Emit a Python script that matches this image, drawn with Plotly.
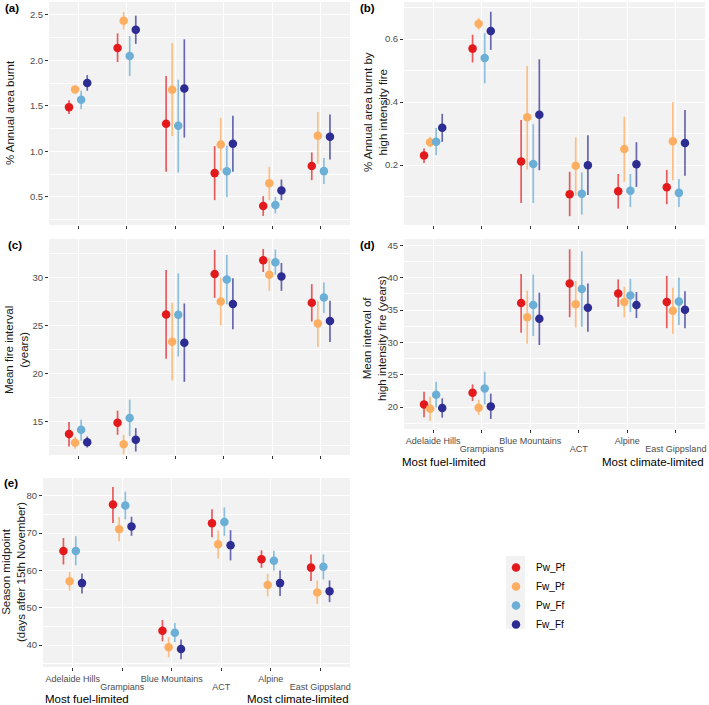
import plotly.graph_objects as go
import numpy as np

W, H = 709, 705

regions = ["Adelaide Hills", "Grampians", "Blue Mountains", "ACT", "Alpine", "East Gippsland"]
series = ["Pw_Pf", "Fw_Pf", "Pw_Ff", "Fw_Ff"]
colors = {"Pw_Pf": "#E31A1C", "Fw_Pf": "#FDAE61", "Pw_Ff": "#6BAED6", "Fw_Ff": "#2C2C92"}
bar_colors = {"Pw_Pf": "rgba(227,26,28,0.7)", "Fw_Pf": "rgba(253,174,97,0.75)",
              "Pw_Ff": "rgba(107,174,214,0.75)", "Fw_Ff": "rgba(44,44,146,0.7)"}

# (a) % Annual area burnt
a_mid = {"Pw_Pf": [1.485, 2.134, 1.302, 0.76, 0.40, 0.837],
         "Fw_Pf": [1.68, 2.434, 1.676, 1.075, 0.65, 1.17],
         "Pw_Ff": [1.566, 2.046, 1.28, 0.78, 0.41, 0.782],
         "Fw_Ff": [1.75, 2.335, 1.69, 1.082, 0.57, 1.16]}
a_lo = {"Pw_Pf": [1.41, 1.98, 0.775, 0.463, 0.29, 0.683],
        "Fw_Pf": [1.64, 2.34, 1.167, 0.786, 0.463, 0.866],
        "Pw_Ff": [1.463, 1.826, 0.767, 0.496, 0.317, 0.64],
        "Fw_Ff": [1.665, 2.18, 1.15, 0.775, 0.463, 0.91]}
a_hi = {"Pw_Pf": [1.56, 2.295, 1.826, 1.057, 0.507, 0.987],
        "Fw_Pf": [1.72, 2.53, 2.19, 1.368, 0.83, 1.43],
        "Pw_Ff": [1.665, 2.266, 1.786, 1.06, 0.5, 0.925],
        "Fw_Ff": [1.837, 2.49, 2.23, 1.39, 0.69, 1.405]}

# (b) % Annual area burnt by high intensity fire
b_mid = {"Pw_Pf": [0.231, 0.57, 0.212, 0.108, 0.117, 0.13],
         "Fw_Pf": [0.273, 0.649, 0.352, 0.198, 0.251, 0.276],
         "Pw_Ff": [0.274, 0.54, 0.204, 0.109, 0.119, 0.112],
         "Fw_Ff": [0.319, 0.626, 0.36, 0.2, 0.203, 0.27]}
b_lo = {"Pw_Pf": [0.207, 0.526, 0.08, 0.038, 0.062, 0.076],
        "Fw_Pf": [0.258, 0.63, 0.186, 0.103, 0.147, 0.152],
        "Pw_Ff": [0.232, 0.46, 0.08, 0.043, 0.067, 0.067],
        "Fw_Ff": [0.274, 0.566, 0.184, 0.105, 0.131, 0.166]}
b_hi = {"Pw_Pf": [0.253, 0.614, 0.343, 0.179, 0.172, 0.185],
        "Fw_Pf": [0.29, 0.667, 0.515, 0.288, 0.354, 0.40],
        "Pw_Ff": [0.318, 0.619, 0.33, 0.177, 0.172, 0.156],
        "Fw_Ff": [0.363, 0.687, 0.536, 0.295, 0.273, 0.375]}

# (c) Mean fire interval (years)
c_mid = {"Pw_Pf": [13.68, 14.86, 26.13, 30.35, 31.78, 27.35],
         "Fw_Pf": [12.77, 12.63, 23.3, 27.49, 30.28, 25.19],
         "Pw_Ff": [14.13, 15.35, 26.1, 29.79, 31.57, 27.9],
         "Fw_Ff": [12.84, 13.08, 23.2, 27.24, 30.1, 25.47]}
c_lo = {"Pw_Pf": [12.39, 13.6, 21.52, 27.87, 30.56, 25.4],
        "Fw_Pf": [12.14, 11.58, 19.26, 24.98, 28.6, 22.75],
        "Pw_Ff": [12.98, 13.47, 21.77, 27.2, 30.28, 26.3],
        "Fw_Ff": [12.28, 11.86, 19.12, 24.6, 28.6, 23.27]}
c_hi = {"Pw_Pf": [14.93, 16.12, 30.77, 32.86, 32.96, 29.3],
        "Fw_Pf": [13.4, 13.6, 27.38, 30.0, 31.99, 27.56],
        "Pw_Ff": [15.18, 17.27, 30.42, 32.34, 32.9, 29.48],
        "Fw_Ff": [13.43, 14.3, 27.28, 29.9, 31.5, 27.56]}

# (d) Mean interval of high intensity fire (years)
d_mid = {"Pw_Pf": [20.41, 22.21, 36.08, 39.1, 37.58, 36.24],
         "Fw_Pf": [19.74, 19.9, 33.9, 35.9, 36.24, 34.9],
         "Pw_Ff": [21.9, 22.88, 35.77, 38.25, 37.27, 36.34],
         "Fw_Ff": [19.85, 20.1, 33.66, 35.36, 35.77, 35.05]}
d_lo = {"Pw_Pf": [18.41, 20.93, 31.5, 33.9, 35.5, 32.2],
        "Fw_Pf": [17.84, 18.77, 29.8, 32.3, 33.87, 31.34],
        "Pw_Ff": [19.9, 20.41, 31.0, 32.4, 34.7, 32.7],
        "Fw_Ff": [18.35, 18.15, 29.6, 31.65, 33.76, 32.2]}
d_hi = {"Pw_Pf": [22.37, 23.5, 40.57, 44.4, 39.74, 40.3],
        "Fw_Pf": [21.6, 21.13, 38.0, 39.5, 38.6, 38.45],
        "Pw_Ff": [23.9, 25.45, 40.5, 44.1, 39.85, 40.05],
        "Fw_Ff": [21.34, 22.06, 37.7, 39.1, 37.8, 37.9]}

# (e) Season midpoint (days after 15th November)
e_mid = {"Pw_Pf": [65.2, 77.7, 43.85, 72.66, 63.0, 60.76],
         "Fw_Pf": [57.1, 71.05, 39.4, 67.0, 56.1, 54.1],
         "Pw_Ff": [65.2, 77.4, 43.3, 73.0, 62.6, 61.0],
         "Fw_Ff": [56.6, 71.77, 38.9, 66.76, 56.6, 54.4]}
e_lo = {"Pw_Pf": [61.6, 72.75, 41.0, 68.9, 60.7, 57.2],
        "Fw_Pf": [54.6, 67.8, 36.7, 63.2, 53.1, 51.0],
        "Pw_Ff": [61.4, 73.7, 40.8, 69.3, 60.0, 57.6],
        "Fw_Ff": [53.8, 69.3, 36.2, 62.7, 53.15, 51.5]}
e_hi = {"Pw_Pf": [68.7, 82.4, 46.7, 76.4, 65.4, 64.3],
        "Fw_Pf": [59.6, 74.36, 42.1, 70.7, 59.1, 57.3],
        "Pw_Ff": [69.2, 81.1, 45.9, 76.9, 65.3, 64.3],
        "Fw_Ff": [59.2, 74.4, 41.5, 70.8, 59.96, 57.3]}

y_titles = {"a": "% Annual area burnt",
            "b": "% Annual area burnt by<br>high intensity fire",
            "c": "Mean fire interval<br>(years)",
            "d": "Mean interval of<br>high intensity fire (years)",
            "e": "Season midpoint<br>(days after 15th November)"}
end_left = "Most fuel-limited"
end_right = "Most climate-limited"

FONT = "Liberation Sans, Arial, sans-serif"
PANEL_BG = "#F2F2F2"
TICKFONT = dict(size=9, color="#4D4D4D", family=FONT)

# layout spec (pixel boxes)
panels = [
    dict(key="a", mid=a_mid, lo=a_lo, hi=a_hi, ax="", box=(49, 350, 2, 225), yr=(0.19, 2.64), dt=0.5,
         fmt=".1f", labels=None, title_xy=(10, 113), letter_xy=(3, 8)),
    dict(key="b", mid=b_mid, lo=b_lo, hi=b_hi, ax="2", box=(404, 705, 2, 225), yr=(0.01, 0.718), dt=0.2,
         fmt=".1f", labels=None, title_xy=(375, 112), letter_xy=(358, 8)),
    dict(key="c", mid=c_mid, lo=c_lo, hi=c_hi, ax="3", box=(49, 350, 239, 455), yr=(11.5, 34.0), dt=5,
         fmt="d", labels=None, title_xy=(16, 350), letter_xy=(6, 245)),
    dict(key="d", mid=d_mid, lo=d_lo, hi=d_hi, ax="4", box=(404, 705, 239, 429), yr=(16.6, 46.0), dt=5,
         fmt="d", labels="6", title_xy=(374, 338), letter_xy=(358, 245)),
    dict(key="e", mid=e_mid, lo=e_lo, hi=e_hi, ax="5", box=(43, 350, 478, 667), yr=(34.1, 84.8), dt=10,
         fmt="d", labels="7", title_xy=(13, 572), letter_xy=(2, 483)),
]

fig = go.Figure()
idx = np.arange(len(regions))
dodge = 0.5
offsets = [(i - (len(series) - 1) / 2) * dodge / len(series) for i in range(len(series))]
row2 = [int(i) for i in idx if i % 2 == 1]

layout = dict(width=W, height=H, margin=dict(l=0, r=0, t=0, b=0), paper_bgcolor="white",
              plot_bgcolor=PANEL_BG, font=dict(family=FONT, color="#000000"), showlegend=True)
annotations = []
shapes = []
XRANGE = [-0.6, len(regions) - 0.4]

for p in panels:
    x0, x1, y0, y1 = p["box"]
    xa = "xaxis" + p["ax"]
    ya = "yaxis" + p["ax"]
    xr = "x" + p["ax"]
    yr = "y" + p["ax"]
    for si, s in enumerate(series):
        mid = np.array(p["mid"][s])
        lo = np.array(p["lo"][s])
        hi = np.array(p["hi"][s])
        fig.add_trace(go.Scatter(
            x=idx + offsets[si], y=mid, mode="markers", name=s, legendgroup=s,
            showlegend=(p["key"] == "a"), xaxis=xr, yaxis=yr, hoverinfo="skip",
            marker=dict(color=colors[s], size=8.5, line=dict(width=0)),
            error_y=dict(type="data", symmetric=False, array=hi - mid, arrayminus=mid - lo,
                         width=0, thickness=1.7, color=bar_colors[s]),
        ))
    has_labels = p["labels"] is not None
    layout[xa] = dict(domain=[x0 / W, x1 / W], range=XRANGE, anchor=yr,
                      tickvals=list(idx),
                      ticktext=[regions[i] if i % 2 == 0 else "" for i in idx],
                      showticklabels=has_labels, tickangle=0, ticklabelstandoff=0,
                      ticks="outside", ticklen=3, tickcolor="#333333", tickwidth=1,
                      showgrid=True, gridcolor="white", gridwidth=1.1, zeroline=False,
                      showline=False, tickfont=TICKFONT, fixedrange=True)
    if has_labels:
        # second staggered row of category labels (like ggplot guide_axis(n.dodge = 2))
        ox = "x" + p["labels"]
        fig.add_trace(go.Scatter(x=row2, y=[None] * len(row2), xaxis=ox, yaxis=yr, mode="markers",
                                 showlegend=False, hoverinfo="skip"))
        layout["xaxis" + p["labels"]] = dict(
            domain=[x0 / W, x1 / W], range=XRANGE, anchor=yr, overlaying=xr,
            tickvals=row2, ticktext=[regions[i] for i in row2], tickangle=0,
            ticks="", ticklabelstandoff=13, showgrid=False, zeroline=False, showline=False,
            tickfont=TICKFONT, fixedrange=True)
    layout[ya] = dict(domain=[1 - y1 / H, 1 - y0 / H], range=list(p["yr"]), anchor=xr,
                      dtick=p["dt"], tick0=0, tickformat=p["fmt"],
                      ticks="outside", ticklen=3, tickcolor="#333333", tickwidth=1,
                      showgrid=True, gridcolor="white", gridwidth=1.1, zeroline=False,
                      showline=False, tickfont=dict(size=9.5, color="#4D4D4D", family=FONT),
                      minor=dict(dtick=p["dt"] / 2, tick0=0, showgrid=True, gridcolor="white",
                                 gridwidth=0.5, ticklen=0),
                      fixedrange=True)
    tx, ty = p["title_xy"]
    annotations.append(dict(text=y_titles[p["key"]], x=tx / W, y=1 - ty / H, xref="paper", yref="paper",
                            showarrow=False, textangle=-90, xanchor="center", yanchor="middle",
                            font=dict(size=11.5, color="#1A1A1A", family=FONT)))
    lx, ly = p["letter_xy"]
    annotations.append(dict(text="<b>(" + p["key"] + ")</b>", x=lx / W, y=1 - ly / H, xref="paper",
                            yref="paper", showarrow=False, xanchor="left", yanchor="middle",
                            font=dict(size=11.5, color="#000000", family=FONT)))
    if has_labels:
        ey = 462 if p["key"] == "d" else 699
        annotations.append(dict(text=end_left, x=(x0 - 4 if p["key"] == "d" else x0) / W, y=1 - ey / H,
                                xref="paper", yref="paper", showarrow=False, xanchor="left",
                                yanchor="middle", font=dict(size=11.5, color="#000000", family=FONT)))
        annotations.append(dict(text=end_right, x=(x1 + 1) / W, y=1 - ey / H,
                                xref="paper", yref="paper", showarrow=False, xanchor="right",
                                yanchor="middle", font=dict(size=11.5, color="#000000", family=FONT)))

# legend key background
shapes.append(dict(type="rect", xref="paper", yref="paper", x0=506 / W, x1=525 / W,
                   y0=1 - 629 / H, y1=1 - 556 / H, fillcolor=PANEL_BG, line=dict(width=0),
                   layer="below"))

layout["annotations"] = annotations
layout["shapes"] = shapes
layout["legend"] = dict(x=496 / W, y=1 - 553 / H, xanchor="left", yanchor="top",
                        bgcolor="rgba(0,0,0,0)", font=dict(size=10, color="#000000", family=FONT),
                        tracegroupgap=0, itemclick=False, itemdoubleclick=False)

fig.update_layout(**layout)
fig.write_html("out.html", config={"displayModeBar": False},
               post_script="document.body.style.margin='0px';")
